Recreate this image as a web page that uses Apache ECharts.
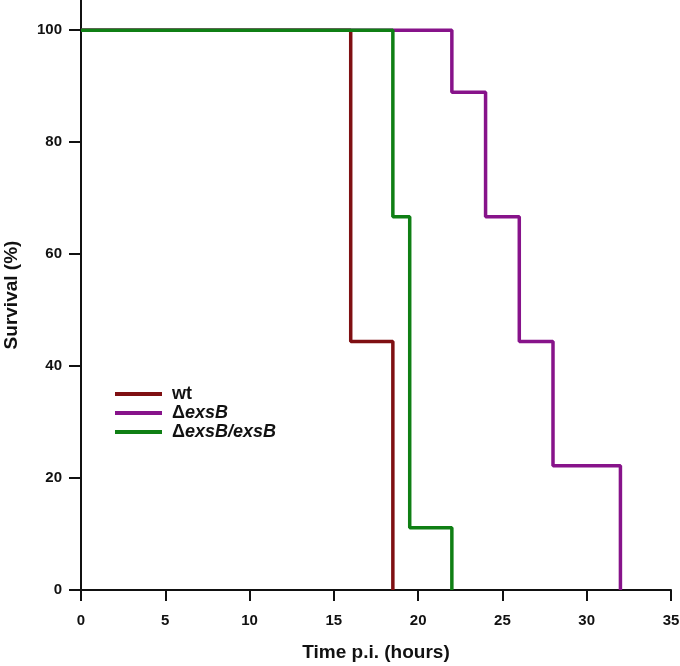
<!DOCTYPE html>
<html><head><meta charset="utf-8">
<script src="https://cdn.jsdelivr.net/npm/echarts@6/dist/echarts.min.js"></script>
<style>html,body{margin:0;padding:0;background:#fff}#c{width:680px;height:666px}</style>
</head><body><div id="c"></div>
<script>
var seriesNames = ['wt', 'ΔexsB', 'ΔexsB/exsB'];
var wtTimes = [0, 16, 18.5];
var wtSurvival = [100, 44.4, 0];
var exsBTimes = [0, 22, 24, 26, 28, 32];
var exsBSurvival = [100, 88.9, 66.7, 44.4, 22.2, 0];
var compTimes = [0, 18.5, 19.5, 22];
var compSurvival = [100, 66.7, 11.1, 0];
var xTicks = [0, 5, 10, 15, 20, 25, 30, 35];
var yTicks = [0, 20, 40, 60, 80, 100];
var colors = ['#7f0f12', '#87138a', '#0f7f14'];

function pairs(t, v) { return t.map(function (x, i) { return [x, v[i]]; }); }
var font = '"Liberation Sans", Arial, sans-serif';
var chart = echarts.init(document.getElementById('c'));
var legendFmt = function (name) {
  if (name === 'wt') return '{b|wt}';
  if (name === 'ΔexsB') return '{b|Δ}{i|exsB}';
  return '{b|Δ}{i|exsB/exsB}';
};
chart.setOption({
  backgroundColor: '#fff',
  animation: false,
  grid: { left: 81, right: 9, top: 0, bottom: 76, containLabel: false, outerBoundsMode: 'none' },
  legend: {
    orient: 'vertical', left: 110, top: 380, itemWidth: 47, itemHeight: 4, itemGap: 1,
    icon: 'rect',
    data: seriesNames, formatter: legendFmt,
    textStyle: {
      fontFamily: font, fontSize: 18, color: '#111', padding: [0, 0, 0, 5],
      rich: {
        b: { fontFamily: font, fontSize: 18, fontWeight: 'bold', color: '#111' },
        i: { fontFamily: font, fontSize: 18, fontWeight: 'bold', fontStyle: 'italic', color: '#111' }
      }
    }
  },
  xAxis: {
    type: 'value', min: 0, max: 35, interval: 5,
    name: 'Time p.i. (hours)', nameLocation: 'middle', nameGap: 53,
    nameTextStyle: { fontFamily: font, fontSize: 19, fontWeight: 'bold', color: '#111' },
    splitLine: { show: false },
    axisLine: { lineStyle: { color: '#111', width: 2 } },
    axisTick: { length: 11, lineStyle: { color: '#111', width: 2 }, customValues: xTicks },
    axisLabel: { customValues: xTicks, margin: 23, fontFamily: font, fontSize: 15, fontWeight: 'bold', color: '#111' }
  },
  yAxis: {
    type: 'value', min: 0, max: 105.4,
    name: 'Survival (%)', nameLocation: 'middle', nameGap: 60,
    nameTextStyle: { fontFamily: font, fontSize: 19, fontWeight: 'bold', color: '#111' },
    splitLine: { show: false },
    axisLine: { show: true, lineStyle: { color: '#111', width: 2 } },
    axisTick: { show: true, length: 12, lineStyle: { color: '#111', width: 2 }, customValues: yTicks },
    axisLabel: { customValues: yTicks, margin: 19, fontFamily: font, fontSize: 15, fontWeight: 'bold', color: '#111' }
  },
  series: [
    { name: seriesNames[0], type: 'line', step: 'end', symbol: 'none', data: pairs(wtTimes, wtSurvival), lineStyle: { color: colors[0], width: 3.5 }, itemStyle: { color: colors[0] } },
    { name: seriesNames[1], type: 'line', step: 'end', symbol: 'none', data: pairs(exsBTimes, exsBSurvival), lineStyle: { color: colors[1], width: 3.5 }, itemStyle: { color: colors[1] } },
    { name: seriesNames[2], type: 'line', step: 'end', symbol: 'none', data: pairs(compTimes, compSurvival), lineStyle: { color: colors[2], width: 3.5 }, itemStyle: { color: colors[2] } }
  ]
});
</script></body></html>
